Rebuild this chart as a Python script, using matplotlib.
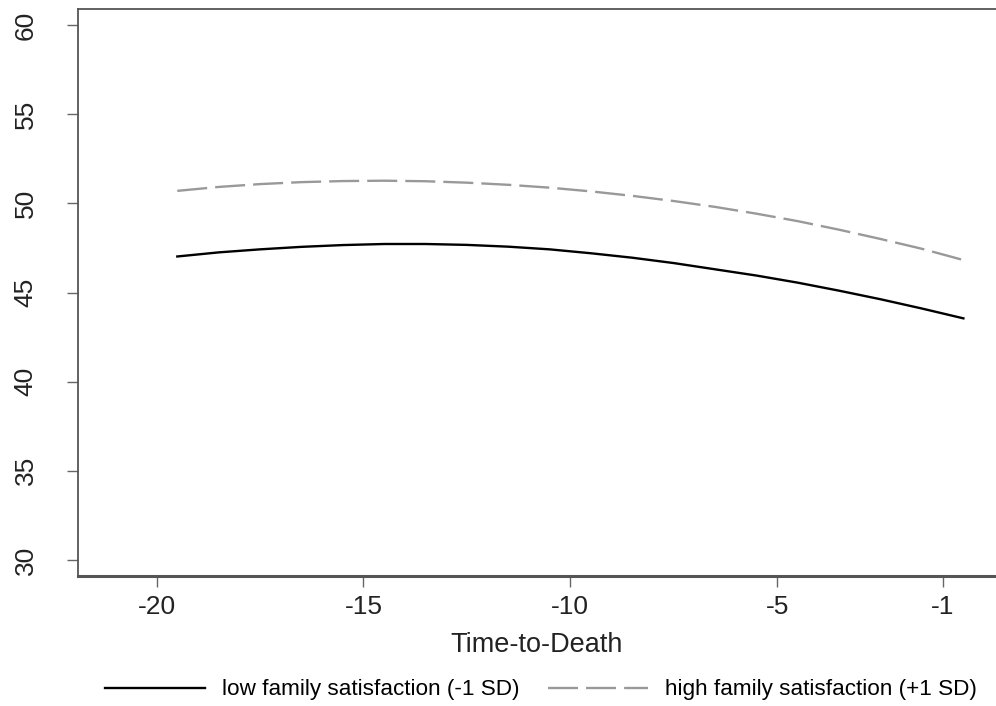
import matplotlib
matplotlib.use("Agg")
import matplotlib.pyplot as plt

plt.rcParams['font.family'] = ['Liberation Sans', 'DejaVu Sans']
plt.rcParams['lines.scale_dashes'] = False

time_to_death = [-19.5, -18.5, -17.5, -16.5, -15.5, -14.5, -13.5, -12.5, -11.5, -10.5,
                 -9.5, -8.5, -7.5, -6.5, -5.5, -4.5, -3.5, -2.5, -1.5, -0.5]
low_family = [47.02, 47.25, 47.42, 47.56, 47.66, 47.72, 47.72, 47.67, 47.57, 47.42,
              47.20, 46.95, 46.65, 46.30, 45.95, 45.55, 45.10, 44.62, 44.10, 43.55]
high_family = [50.70, 50.92, 51.08, 51.19, 51.25, 51.27, 51.24, 51.16, 51.04, 50.88,
               50.67, 50.42, 50.13, 49.80, 49.42, 49.00, 48.52, 48.00, 47.45, 46.82]
x_ticks = [-20, -15, -10, -5, -1]
y_ticks = [30, 35, 40, 45, 50, 55, 60]
labels = ["low family satisfaction (-1 SD)", "high family satisfaction (+1 SD)"]

W, H = 996, 706
fig = plt.figure(figsize=(W / 100, H / 100), dpi=100)
ax = fig.add_axes([78 / W, (H - 576) / H, 918 / W, 567 / H])

ax.plot(time_to_death, low_family, color='black', lw=1.7, label=labels[0])
ax.plot(time_to_death, high_family, color='#999999', lw=1.7, dashes=(21.6, 5.8), label=labels[1])

ax.set_xlim(-21.90, 0.288)
ax.set_ylim(29.10, 60.90)
ax.set_xticks(x_ticks)
ax.set_xticklabels([str(v) for v in x_ticks])
ax.set_yticks(y_ticks)
ax.set_yticklabels([str(v) for v in y_ticks], rotation=90, va='center')

spine_c = '#555555'
ax.spines['right'].set_visible(False)
ax.spines['left'].set_color(spine_c)
ax.spines['left'].set_linewidth(1.3)
ax.spines['top'].set_color(spine_c)
ax.spines['top'].set_linewidth(1.3)
ax.spines['bottom'].set_color(spine_c)
ax.spines['bottom'].set_linewidth(2.2)

ax.tick_params(axis='both', direction='out', length=8, width=1.0, color='#666666',
               labelsize=19, labelcolor='#222222')
ax.tick_params(axis='y', pad=21)
ax.tick_params(axis='x', pad=6)

ax.set_xlabel("Time-to-Death", fontsize=19.5, color='#222222', labelpad=9)

fig.legend(loc='center left', bbox_to_anchor=(105 / W, 1 - 690 / H), ncol=2, frameon=False,
           fontsize=16.2, handlelength=4.44, handletextpad=0.74, columnspacing=1.29,
           borderaxespad=0, borderpad=0)

fig.savefig("out.png", dpi=100)
